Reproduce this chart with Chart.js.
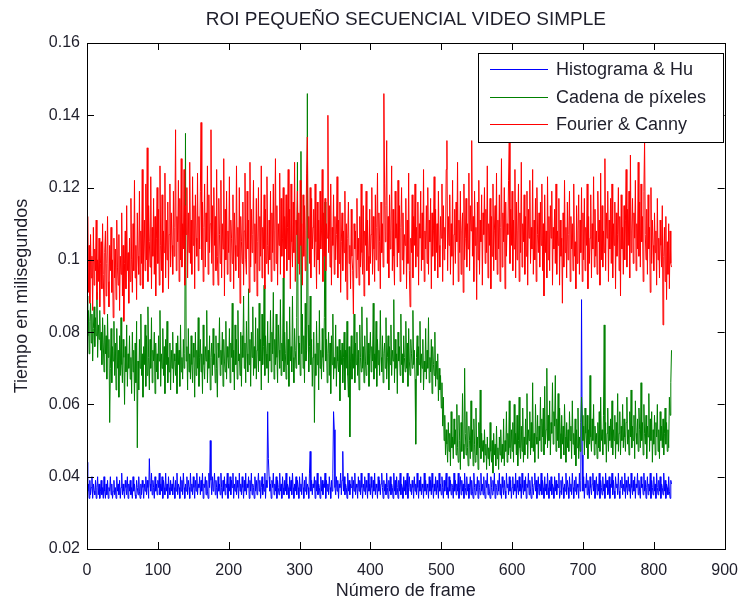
<!DOCTYPE html>
<html>
<head>
<meta charset="utf-8">
<script src="https://cdn.jsdelivr.net/npm/chart.js@4.4.1/dist/chart.umd.min.js"></script>
<style>
  html, body { margin: 0; padding: 0; background: #fff; }
  #wrap { width: 750px; height: 604px; }
</style>
</head>
<body>
<div id="wrap"><canvas id="myChart" width="750" height="604"></canvas></div>
<script>
// one value per frame (0..825), rows of 20 frames
const histogramaHu = [
  .044,.036,.038,.034,.039,.035,.037,.040,.034,.038,.036,.035,.039,.034,.037,.040,.035,.038,.034,.036,
  .039,.035,.037,.034,.040,.036,.034,.038,.035,.039,.034,.037,.036,.040,.035,.038,.034,.036,.039,.035,
  .037,.034,.040,.036,.038,.035,.039,.034,.037,.041,.035,.038,.036,.034,.039,.037,.035,.040,.034,.038,
  .036,.039,.035,.037,.034,.040,.036,.038,.035,.034,.039,.037,.035,.040,.036,.034,.038,.035,.039,.037,
  .034,.038,.036,.040,.035,.039,.037,.034,.045,.038,.036,.041,.035,.039,.037,.034,.040,.036,.038,.035,
  .039,.037,.041,.035,.038,.036,.040,.034,.039,.037,.035,.041,.036,.038,.034,.040,.037,.035,.039,.036,
  .038,.035,.040,.037,.034,.039,.036,.041,.035,.038,.037,.034,.040,.036,.039,.035,.041,.037,.034,.038,
  .036,.040,.035,.039,.037,.034,.041,.036,.038,.035,.040,.037,.034,.039,.036,.041,.035,.038,.037,.040,
  .035,.039,.036,.041,.034,.038,.037,.040,.035,.039,.036,.034,.041,.037,.050,.039,.035,.040,.036,.038,
  .041,.035,.039,.037,.034,.040,.036,.038,.035,.041,.037,.034,.039,.036,.040,.035,.038,.037,.041,.034,
  .038,.036,.040,.035,.039,.037,.041,.034,.038,.036,.040,.035,.039,.037,.034,.041,.036,.038,.035,.040,
  .037,.034,.039,.036,.041,.035,.038,.037,.040,.034,.039,.036,.041,.035,.038,.037,.034,.040,.036,.039,
  .035,.038,.041,.036,.039,.034,.037,.040,.035,.038,.036,.041,.034,.039,.037,.058,.045,.040,.036,.038,
  .034,.039,.037,.041,.035,.038,.036,.040,.034,.039,.037,.035,.041,.036,.038,.034,.040,.037,.035,.039,
  .036,.041,.035,.038,.037,.034,.040,.036,.039,.035,.041,.037,.034,.038,.036,.040,.035,.039,.037,.034,
  .040,.036,.038,.035,.041,.037,.034,.039,.036,.040,.035,.038,.037,.034,.041,.047,.036,.039,.035,.038,
  .037,.040,.034,.039,.036,.041,.035,.038,.037,.034,.040,.036,.039,.035,.038,.037,.041,.034,.039,.036,
  .038,.035,.040,.037,.034,.039,.036,.041,.058,.053,.037,.035,.040,.036,.039,.034,.038,.037,.041,.035,
  .039,.047,.036,.040,.035,.038,.037,.034,.041,.036,.039,.035,.038,.037,.040,.034,.039,.036,.041,.035,
  .038,.037,.034,.040,.036,.039,.035,.041,.037,.034,.038,.036,.040,.035,.039,.037,.034,.041,.036,.038,
  .035,.040,.037,.034,.039,.036,.041,.035,.038,.037,.034,.040,.036,.039,.035,.038,.041,.037,.034,.039,
  .036,.038,.035,.041,.037,.034,.039,.036,.040,.035,.038,.037,.034,.041,.036,.039,.035,.040,.037,.034,
  .039,.036,.041,.035,.038,.037,.034,.040,.036,.039,.035,.038,.041,.034,.037,.040,.036,.038,.035,.039,
  .037,.034,.040,.036,.038,.035,.041,.037,.034,.039,.036,.040,.035,.038,.037,.034,.041,.036,.039,.035,
  .038,.037,.034,.040,.036,.039,.035,.041,.037,.034,.038,.036,.040,.035,.039,.037,.034,.041,.036,.038,
  .035,.040,.037,.034,.039,.036,.038,.041,.035,.037,.034,.040,.036,.039,.035,.038,.037,.034,.041,.036,
  .039,.035,.038,.036,.041,.034,.037,.040,.035,.039,.036,.038,.034,.041,.037,.035,.040,.036,.038,.034,
  .037,.040,.035,.039,.036,.034,.041,.037,.035,.038,.036,.040,.034,.039,.037,.035,.041,.036,.038,.035,
  .040,.036,.034,.039,.037,.041,.035,.038,.036,.034,.040,.037,.035,.039,.036,.041,.034,.038,.037,.035,
  .039,.036,.041,.035,.038,.034,.040,.037,.035,.039,.036,.034,.041,.037,.038,.035,.040,.036,.039,.034,
  .037,.040,.035,.038,.036,.041,.034,.039,.037,.035,.040,.036,.038,.034,.041,.037,.035,.039,.036,.040,
  .034,.038,.037,.041,.035,.039,.036,.034,.040,.037,.035,.038,.041,.036,.039,.034,.037,.040,.035,.038,
  .036,.041,.035,.039,.037,.034,.040,.036,.038,.035,.041,.037,.034,.039,.036,.040,.035,.038,.037,.034,
  .040,.036,.039,.035,.038,.037,.041,.034,.036,.039,.035,.040,.037,.034,.038,.036,.041,.035,.039,.037,
  .034,.040,.036,.038,.035,.041,.037,.034,.039,.036,.040,.035,.038,.037,.034,.041,.036,.039,.089,.046,
  .036,.040,.034,.038,.037,.041,.035,.039,.036,.034,.040,.037,.035,.038,.041,.036,.039,.034,.037,.040,
  .035,.038,.036,.041,.034,.039,.037,.035,.040,.036,.038,.034,.041,.037,.039,.035,.036,.040,.034,.038,
  .037,.041,.035,.039,.036,.034,.040,.037,.038,.035,.041,.036,.034,.039,.037,.040,.035,.038,.036,.041,
  .034,.039,.037,.035,.040,.036,.038,.034,.041,.037,.035,.039,.036,.040,.034,.038,.037,.041,.035,.039,
  .036,.034,.040,.037,.038,.035,.041,.036,.039,.034,.037,.040,.035,.038,.036,.041,.034,.039,.037,.035,
  .040,.036,.038,.034,.041,.037,.035,.039,.036,.040,.034,.038,.037,.035,.041,.036,.039,.034,.038,.037,
  .035,.040,.036,.034,.039,.038
];

const cadenaPixeles = [
  .090,.079,.086,.074,.083,.088,.077,.085,.072,.081,.087,.076,.084,.079,.091,.073,.082,.078,.086,.075,
  .080,.071,.084,.077,.069,.082,.074,.079,.067,.085,.073,.078,.055,.070,.081,.066,.076,.072,.083,.068,
  .077,.064,.081,.070,.075,.062,.079,.068,.084,.071,.066,.078,.073,.060,.076,.069,.082,.065,.074,.070,
  .079,.067,.073,.063,.080,.069,.075,.061,.077,.066,.083,.048,.072,.064,.078,.070,.085,.068,.074,.062,
  .076,.071,.082,.065,.079,.068,.087,.073,.064,.078,.070,.084,.066,.075,.072,.080,.063,.077,.069,.074,
  .067,.079,.072,.086,.065,.074,.070,.081,.068,.076,.063,.078,.071,.083,.066,.073,.069,.077,.064,.075,
  .070,.080,.066,.074,.072,.068,.077,.063,.079,.071,.075,.065,.082,.069,.073,.067,.078,.070,.074,.135,
  .072,.076,.064,.081,.069,.074,.067,.079,.071,.066,.077,.073,.062,.080,.068,.075,.070,.084,.065,.073,
  .078,.069,.074,.063,.082,.071,.067,.076,.072,.086,.066,.075,.070,.079,.064,.073,.077,.068,.081,.071,
  .074,.066,.079,.070,.062,.077,.073,.084,.068,.075,.071,.080,.065,.078,.072,.069,.083,.067,.076,.073,
  .070,.081,.066,.077,.073,.088,.069,.075,.064,.082,.071,.078,.067,.086,.072,.074,.068,.080,.065,.079,
  .073,.090,.070,.077,.066,.083,.074,.069,.092,.071,.078,.065,.080,.073,.087,.068,.076,.070,.084,.067,
  .075,.081,.069,.088,.072,.078,.064,.085,.071,.076,.093,.068,.079,.074,.070,.083,.066,.077,.072,.086,
  .069,.080,.074,.091,.067,.078,.071,.085,.073,.066,.082,.075,.070,.089,.068,.077,.072,.095,.069,.080,
  .074,.067,.083,.071,.078,.065,.087,.072,.076,.069,.090,.073,.066,.081,.075,.070,.084,.127,.079,.071,
  .077,.068,.130,.074,.085,.070,.079,.066,.088,.072,.075,.146,.082,.069,.076,.090,.071,.078,.065,.073,
  .080,.055,.074,.068,.083,.071,.077,.064,.086,.070,.075,.067,.081,.073,.069,.084,.116,.072,.078,.066,
  .074,.080,.068,.077,.063,.079,.071,.085,.067,.073,.070,.082,.065,.076,.072,.069,.078,.061,.075,.071,
  .077,.066,.073,.080,.064,.075,.070,.083,.068,.062,.076,.051,.072,.079,.067,.074,.070,.085,.066,.077,
  .071,.080,.068,.075,.064,.082,.073,.069,.087,.070,.076,.066,.079,.072,.068,.084,.071,.077,.065,.074,
  .080,.069,.076,.072,.088,.067,.074,.070,.083,.065,.078,.071,.075,.068,.086,.073,.069,.079,.066,.074,
  .077,.070,.084,.067,.073,.079,.064,.076,.071,.082,.068,.075,.072,.089,.066,.078,.070,.074,.063,.080,
  .072,.076,.068,.085,.071,.074,.066,.079,.073,.069,.083,.070,.077,.065,.081,.072,.068,.078,.074,.070,
  .086,.071,.075,.067,.049,.073,.079,.068,.076,.071,.083,.066,.074,.070,.078,.064,.072,.069,.081,.067,
  .075,.070,.084,.066,.073,.069,.078,.063,.076,.071,.068,.080,.065,.072,.067,.074,.061,.070,.064,.068,
  .059,.066,.054,.062,.050,.057,.046,.053,.049,.044,.055,.047,.052,.043,.058,.048,.051,.045,.056,.049,
  .053,.046,.060,.048,.044,.057,.050,.042,.055,.047,.063,.049,.045,.070,.052,.046,.058,.048,.043,.054,
  .050,.045,.061,.047,.053,.043,.056,.049,.044,.059,.046,.051,.042,.055,.048,.064,.045,.052,.047,.050,
  .044,.053,.046,.049,.042,.051,.045,.048,.043,.055,.047,.044,.050,.041,.052,.046,.049,.043,.054,.045,
  .048,.042,.051,.046,.053,.044,.049,.045,.056,.043,.050,.047,.058,.044,.052,.046,.061,.048,.045,.053,
  .047,.055,.044,.060,.049,.052,.046,.057,.043,.050,.062,.048,.045,.054,.047,.059,.044,.051,.046,.056,
  .049,.063,.045,.053,.050,.058,.046,.055,.048,.066,.047,.052,.044,.060,.051,.049,.057,.045,.054,.050,
  .062,.047,.056,.051,.059,.046,.065,.049,.053,.070,.048,.057,.050,.061,.046,.055,.052,.066,.049,.058,
  .054,.068,.047,.056,.050,.063,.048,.059,.052,.045,.057,.049,.054,.046,.060,.051,.044,.055,.048,.053,
  .047,.058,.050,.054,.045,.061,.049,.052,.046,.056,.043,.053,.048,.059,.045,.051,.047,.055,.062,.057,
  .050,.054,.046,.059,.052,.048,.057,.045,.053,.049,.068,.051,.047,.056,.050,.060,.046,.054,.049,.052,
  .045,.055,.048,.058,.047,.062,.050,.053,.046,.057,.082,.049,.055,.044,.052,.059,.047,.054,.050,.056,
  .048,.061,.046,.053,.050,.057,.045,.055,.049,.063,.047,.052,.058,.046,.054,.050,.060,.048,.056,.051,
  .047,.055,.062,.049,.053,.046,.058,.051,.064,.048,.054,.050,.057,.045,.061,.052,.049,.056,.047,.059,
  .053,.048,.066,.050,.055,.046,.060,.052,.049,.057,.045,.054,.051,.063,.047,.056,.050,.058,.044,.053,
  .049,.057,.046,.055,.051,.060,.047,.053,.045,.058,.050,.054,.048,.056,.046,.052,.059,.049,.055,.047,
  .053,.048,.062,.057,.066,.075
];

const fourierCanny = [
  .098,.112,.091,.104,.088,.107,.095,.101,.086,.109,.093,.103,.097,.111,.089,.100,.094,.106,.087,.099,
  .105,.092,.110,.096,.085,.102,.108,.090,.099,.112,.094,.087,.104,.097,.109,.091,.100,.084,.106,.095,
  .103,.089,.111,.098,.093,.107,.086,.101,.096,.113,.090,.104,.083,.099,.108,.092,.115,.097,.102,.088,
  .106,.094,.117,.100,.091,.110,.097,.122,.095,.104,.089,.113,.101,.096,.119,.093,.108,.099,.125,.092,
  .103,.111,.097,.121,.100,.131,.094,.115,.105,.098,.123,.092,.109,.101,.117,.096,.112,.090,.106,.120,
  .099,.114,.093,.126,.104,.097,.118,.091,.108,.102,.124,.095,.111,.100,.116,.092,.107,.121,.098,.113,
  .104,.096,.119,.101,.109,.136,.097,.112,.105,.122,.094,.117,.100,.128,.098,.110,.103,.125,.093,.115,
  .107,.120,.095,.113,.102,.127,.099,.111,.096,.123,.104,.115,.092,.118,.106,.101,.124,.097,.112,.103,
  .119,.138,.100,.116,.094,.109,.121,.098,.113,.105,.126,.096,.118,.102,.110,.136,.099,.115,.093,.120,
  .104,.112,.097,.125,.101,.093,.117,.107,.099,.122,.095,.110,.103,.128,.090,.114,.100,.119,.096,.108,
  .102,.123,.094,.111,.106,.099,.118,.092,.113,.104,.097,.126,.101,.109,.095,.120,.088,.112,.105,.099,
  .116,.093,.108,.124,.100,.096,.119,.103,.111,.091,.127,.098,.114,.102,.107,.122,.094,.110,.099,.117,
  .090,.105,.120,.097,.112,.101,.126,.095,.109,.103,.118,.092,.114,.099,.123,.104,.096,.111,.100,.119,
  .094,.113,.102,.121,.097,.108,.128,.099,.115,.093,.110,.104,.124,.096,.117,.101,.106,.120,.095,.112,
  .103,.118,.097,.109,.125,.100,.114,.092,.121,.105,.098,.116,.102,.127,.094,.111,.107,.119,.099,.113,
  .096,.122,.104,.110,.093,.118,.101,.115,.097,.108,.124,.134,.106,.112,.099,.120,.095,.117,.103,.109,
  .114,.098,.121,.105,.092,.116,.100,.111,.096,.119,.103,.108,.125,.094,.113,.101,.117,.097,.110,.106,
  .140,.102,.115,.098,.121,.093,.109,.104,.118,.096,.112,.100,.107,.123,.095,.111,.099,.116,.091,.105,
  .113,.097,.108,.102,.119,.094,.110,.089,.106,.116,.099,.104,.092,.114,.101,.097,.085,.110,.103,.108,
  .095,.117,.100,.106,.093,.112,.098,.121,.102,.096,.115,.090,.108,.104,.119,.097,.111,.101,.093,.114,
  .099,.107,.120,.096,.112,.103,.094,.118,.100,.109,.124,.097,.113,.105,.092,.116,.102,.110,.098,.146,
  .121,.105,.115,.133,.099,.112,.095,.118,.103,.108,.126,.097,.114,.101,.093,.119,.106,.110,.098,.122,
  .102,.115,.094,.109,.120,.100,.113,.096,.107,.104,.117,.092,.111,.099,.124,.097,.087,.106,.102,.118,
  .095,.112,.104,.121,.098,.109,.101,.116,.093,.110,.106,.119,.097,.113,.100,.125,.094,.108,.103,.115,
  .099,.120,.096,.111,.105,.117,.092,.113,.101,.108,.123,.097,.114,.102,.110,.095,.119,.104,.098,.112,
  .106,.121,.094,.115,.100,.109,.103,.125,.133,.097,.112,.104,.118,.096,.110,.101,.122,.093,.107,.114,
  .099,.116,.105,.127,.094,.111,.102,.119,.096,.108,.113,.091,.121,.100,.106,.117,.098,.110,.103,.124,
  .097,.115,.108,.133,.101,.112,.094,.119,.104,.109,.089,.116,.100,.122,.096,.111,.105,.118,.093,.113,
  .107,.120,.099,.114,.102,.126,.095,.110,.104,.117,.092,.112,.101,.121,.097,.108,.115,.100,.124,.096,
  .111,.103,.118,.094,.109,.128,.098,.113,.105,.120,.092,.116,.101,.110,.107,.122,.133,.099,.114,.104,
  .119,.097,.111,.103,.125,.095,.116,.100,.108,.121,.094,.113,.102,.127,.098,.110,.105,.118,.096,.112,
  .101,.119,.093,.114,.106,.122,.099,.109,.103,.125,.096,.111,.100,.117,.094,.120,.107,.102,.113,.098,
  .116,.104,.121,.097,.110,.090,.118,.102,.108,.095,.123,.100,.112,.097,.115,.106,.119,.093,.109,.103,
  .114,.099,.121,.096,.108,.104,.117,.093,.111,.101,.106,.088,.113,.098,.122,.102,.109,.095,.116,.100,
  .107,.119,.094,.112,.103,.110,.097,.121,.101,.105,.092,.115,.099,.108,.118,.096,.111,.102,.120,.094,
  .113,.100,.117,.097,.109,.104,.121,.092,.112,.099,.106,.118,.095,.110,.103,.123,.098,.114,.101,.108,
  .096,.119,.105,.111,.093,.124,.100,.115,.098,.108,.102,.128,.097,.113,.106,.119,.094,.111,.103,.117,
  .099,.121,.095,.110,.104,.116,.092,.113,.101,.107,.120,.097,.112,.090,.118,.103,.109,.096,.115,.100,
  .111,.125,.098,.114,.104,.119,.095,.129,.102,.108,.117,.099,.113,.106,.122,.097,.110,.103,.127,.101,
  .116,.098,.121,.105,.112,.094,.119,.133,.107,.100,.114,.096,.118,.103,.109,.091,.120,.099,.111,.104,
  .097,.113,.102,.108,.093,.117,.100,.106,.095,.111,.104,.098,.115,.082,.101,.109,.094,.112,.089,.105,
  .096,.110,.092,.108,.099,.098
];

const seriesNames = ['Histograma & Hu', 'Cadena de píxeles', 'Fourier & Canny'];
const seriesColors = ['#0000ff', '#008000', '#ff0000'];
const xTicks = [0, 100, 200, 300, 400, 500, 600, 700, 800, 900];
const yTicks = [0.02, 0.04, 0.06, 0.08, 0.1, 0.12, 0.14, 0.16];

const FONT = "'Liberation Sans', Arial, sans-serif";
const TXT = '#1e1e2a';

// x = frame number (index in the arrays)
function toPoints(values) {
  return values.map((v, frame) => ({ x: frame, y: v }));
}

//
// box, inward ticks (matlab style), title and legend
//
const matlabFrame = {
  id: 'matlabFrame',
  afterDatasetsDraw(chart) {
    const ctx = chart.ctx;
    const a = chart.chartArea;
    const xs = chart.scales.x, ys = chart.scales.y;
    const tl = 7;
    ctx.save();
    ctx.strokeStyle = '#000';
    ctx.lineWidth = 1;
    ctx.beginPath();
    xTicks.forEach(t => {
      const px = Math.round(xs.getPixelForValue(t)) + 0.5;
      ctx.moveTo(px, a.bottom); ctx.lineTo(px, a.bottom - tl);
      ctx.moveTo(px, a.top); ctx.lineTo(px, a.top + tl);
    });
    yTicks.forEach(t => {
      const py = Math.round(ys.getPixelForValue(t)) + 0.5;
      ctx.moveTo(a.left, py); ctx.lineTo(a.left + tl, py);
      ctx.moveTo(a.right, py); ctx.lineTo(a.right - tl, py);
    });
    ctx.stroke();
    ctx.strokeRect(Math.round(a.left) + 0.5, Math.round(a.top) + 0.5,
                   Math.round(a.right - a.left), Math.round(a.bottom - a.top));

    // legend box (inside, north-east)
    const lx = 478.5, ly = 53.5, lw = 245, lh = 89;
    ctx.fillStyle = '#fff';
    ctx.fillRect(lx, ly, lw, lh);
    ctx.strokeStyle = '#000';
    ctx.strokeRect(lx, ly, lw, lh);
    ctx.font = '18px ' + FONT;
    ctx.textBaseline = 'middle';
    ctx.textAlign = 'left';
    const rows = [69, 97, 124];
    seriesNames.forEach((name, i) => {
      ctx.strokeStyle = seriesColors[i];
      ctx.beginPath();
      ctx.moveTo(490, rows[i] + 0.5);
      ctx.lineTo(548, rows[i] + 0.5);
      ctx.stroke();
      ctx.fillStyle = TXT;
      ctx.fillText(name, 556, rows[i] + 1);
    });

    // title
    ctx.font = '19px ' + FONT;
    ctx.textAlign = 'center';
    ctx.fillText('ROI PEQUEÑO SECUENCIAL VIDEO SIMPLE', (a.left + a.right) / 2, 20);
    ctx.restore();
  }
};

const datasets = [histogramaHu, cadenaPixeles, fourierCanny].map((vals, i) => ({
  label: seriesNames[i],
  data: toPoints(vals),
  borderColor: seriesColors[i],
  backgroundColor: seriesColors[i],
  borderWidth: 1,
  pointRadius: 0,
  tension: 0,
  fill: false,
  order: 3 - i,
}));

var myChart = new Chart(document.getElementById('myChart').getContext('2d'), {
  type: 'line',
  data: { datasets: datasets },
  plugins: [matlabFrame],
  options: {
    responsive: false,
    animation: false,
    events: [],
    layout: { padding: { top: 43, right: 17, left: 0, bottom: 0 } },
    plugins: {
      legend: { display: false },
      title: { display: false },
      tooltip: { enabled: false },
    },
    scales: {
      x: {
        type: 'linear',
        min: 0,
        max: 900,
        afterFit: s => { s.height = 55; },
        afterBuildTicks: s => { s.ticks = xTicks.map(v => ({ value: v })); },
        grid: { display: false, drawTicks: false },
        border: { display: false },
        ticks: { color: TXT, font: { family: FONT, size: 16 }, padding: 12, maxRotation: 0 },
        title: { display: true, text: 'Número de frame', color: TXT,
                 font: { family: FONT, size: 18 }, padding: { top: 0, bottom: 2 } },
      },
      y: {
        type: 'linear',
        min: 0.02,
        max: 0.16,
        afterFit: s => { s.width = 87; },
        afterBuildTicks: s => { s.ticks = yTicks.map(v => ({ value: v })); },
        grid: { display: false, drawTicks: false },
        border: { display: false },
        ticks: { color: TXT, font: { family: FONT, size: 16 }, padding: 7,
                 callback: v => String(+v.toFixed(2)) },
        title: { display: true, text: 'Tiempo en milisegundos', color: TXT,
                 font: { family: FONT, size: 18 }, padding: { top: 11, bottom: 0 } },
      },
    },
  },
});
</script>
</body>
</html>
